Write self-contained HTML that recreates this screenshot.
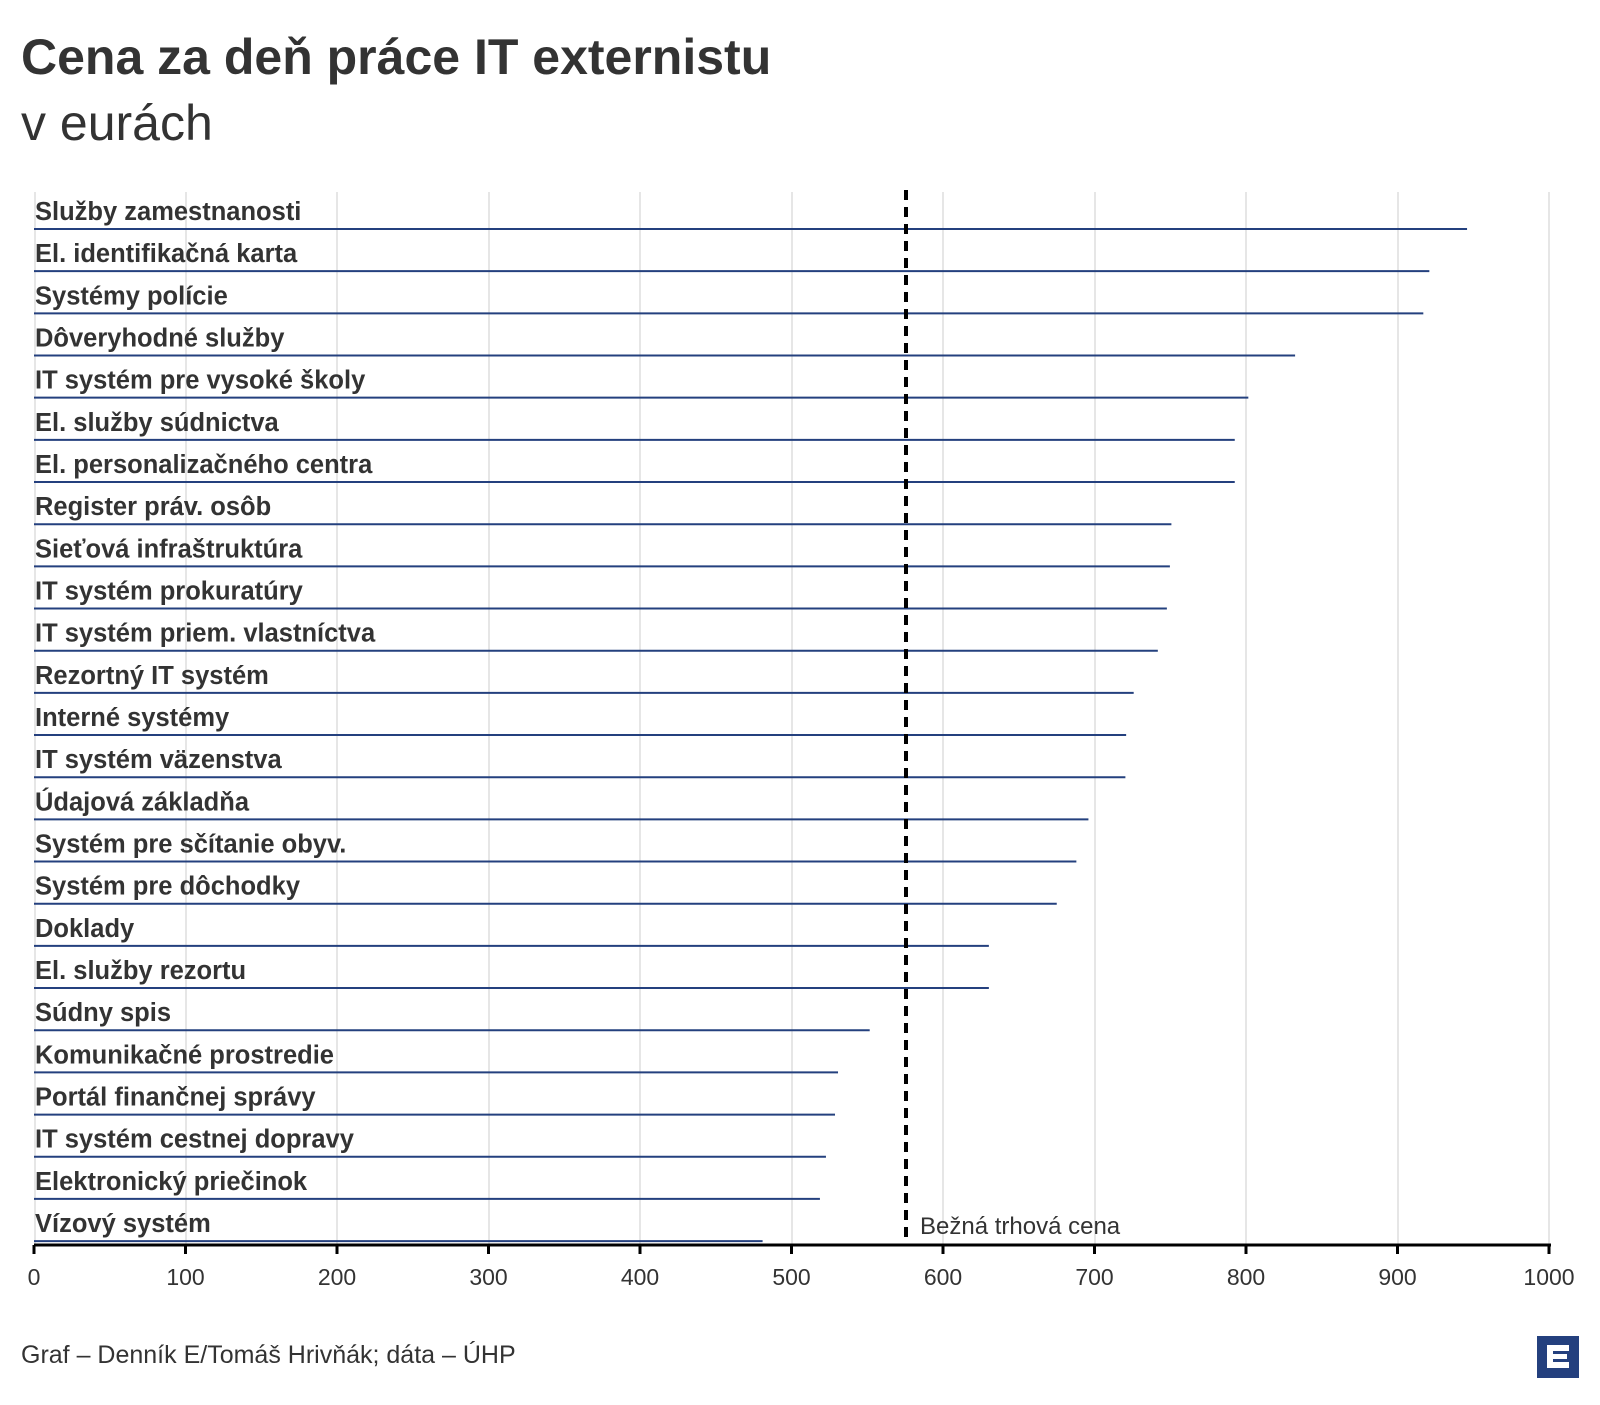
<!DOCTYPE html>
<html><head><meta charset="utf-8"><style>
body{margin:0;background:#fff;}
svg text{font-family:"Liberation Sans",sans-serif;}
</style></head><body>
<svg width="1600" height="1400" xmlns="http://www.w3.org/2000/svg">
<text x="21" y="74" font-size="50" font-weight="bold" fill="#333">Cena za deň práce IT externistu</text>
<text x="21" y="140" font-size="50" fill="#333">v eurách</text>
<g stroke="#e6e6e6" stroke-width="2">
<line x1="186" y1="192" x2="186" y2="1245"/><line x1="337" y1="192" x2="337" y2="1245"/>
<line x1="489" y1="192" x2="489" y2="1245"/><line x1="640" y1="192" x2="640" y2="1245"/>
<line x1="792" y1="192" x2="792" y2="1245"/><line x1="943" y1="192" x2="943" y2="1245"/>
<line x1="1095" y1="192" x2="1095" y2="1245"/><line x1="1246" y1="192" x2="1246" y2="1245"/>
<line x1="1398" y1="192" x2="1398" y2="1245"/><line x1="1549" y1="192" x2="1549" y2="1245"/>
<line x1="35" y1="192" x2="35" y2="1245"/>
</g>
<g stroke="#24407e" stroke-width="2" id="bars"></g>
<g font-size="25.5" font-weight="bold" fill="#333" id="labels"></g>
<line x1="906" y1="190" x2="906" y2="1245" stroke="#000" stroke-width="4" stroke-dasharray="10,7"/>
<text x="920" y="1234" font-size="24" fill="#333">Bežná trhová cena</text>
<line x1="34" y1="1245" x2="1551" y2="1245" stroke="#000" stroke-width="3"/>
<g stroke="#000" stroke-width="3" id="ticks"></g>
<g font-size="23" fill="#333" text-anchor="middle" id="tl"></g>
<text x="21" y="1363" font-size="25" fill="#333">Graf – Denník E/Tomáš Hrivňák; dáta – ÚHP</text>
<rect x="1537" y="1336" width="42" height="42" fill="#24407e"/>
<path d="M1547 1345 H1569 V1351 H1553 V1354 H1567 V1359 H1553 V1362 H1569 V1368 H1547 Z" fill="#fff"/>
<script>
var names=["Služby zamestnanosti","El. identifikačná karta","Systémy polície","Dôveryhodné služby","IT systém pre vysoké školy","El. služby súdnictva","El. personalizačného centra","Register práv. osôb","Sieťová infraštruktúra","IT systém prokuratúry","IT systém priem. vlastníctva","Rezortný IT systém","Interné systémy","IT systém väzenstva","Údajová základňa","Systém pre sčítanie obyv.","Systém pre dôchodky","Doklady","El. služby rezortu","Súdny spis","Komunikačné prostredie","Portál finančnej správy","IT systém cestnej dopravy","Elektronický priečinok","Vízový systém"];
var v=[950,925,921,836,805,796,796,754,753,751,745,729,724,723.5,699,691,678,633,633,554,533,531,525,521,483];
var ns="http://www.w3.org/2000/svg",b=document.getElementById("bars"),l=document.getElementById("labels");
for(var i=0;i<25;i++){var y=229+i*42.17;
var ln=document.createElementNS(ns,"line");ln.setAttribute("x1",34);ln.setAttribute("x2",34+v[i]*1.515*0.9957);ln.setAttribute("y1",y);ln.setAttribute("y2",y);b.appendChild(ln);
var t=document.createElementNS(ns,"text");t.setAttribute("x",35);t.setAttribute("y",y-9);t.textContent=names[i];l.appendChild(t);}
var tk=document.getElementById("ticks"),tl=document.getElementById("tl");
for(var k=0;k<=10;k++){var x=34+k*151.5;
var a=document.createElementNS(ns,"line");a.setAttribute("x1",x);a.setAttribute("x2",x);a.setAttribute("y1",1245);a.setAttribute("y2",1254);tk.appendChild(a);
var t2=document.createElementNS(ns,"text");t2.setAttribute("x",x);t2.setAttribute("y",1285);t2.textContent=k*100;tl.appendChild(t2);}
</script>
</svg>
</body></html>
